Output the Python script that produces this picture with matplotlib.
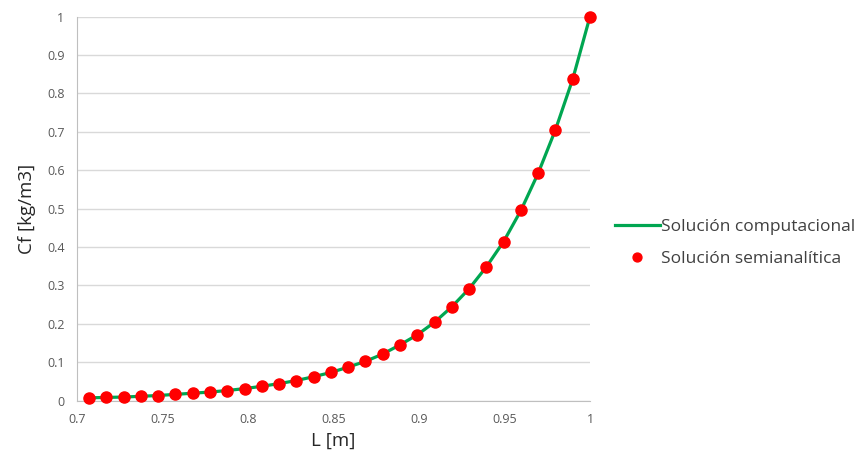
import matplotlib
matplotlib.use("Agg")
import matplotlib.pyplot as plt
import numpy as np

# L [m] positions of the computed / semi-analytic points
l_vals = [0.7071, 0.7172, 0.7273, 0.7374, 0.7475, 0.7576, 0.7677, 0.7778,
          0.7879, 0.7980, 0.8081, 0.8182, 0.8283, 0.8384, 0.8485, 0.8586,
          0.8687, 0.8788, 0.8889, 0.8990, 0.9091, 0.9192, 0.9293, 0.9394,
          0.9495, 0.9596, 0.9697, 0.9798, 0.9899, 1.0]
cf_comp = [0.007, 0.008, 0.009, 0.011, 0.013, 0.016, 0.019, 0.022,
           0.026, 0.031, 0.037, 0.044, 0.052, 0.062, 0.073, 0.087,
           0.102, 0.121, 0.145, 0.171, 0.204, 0.244, 0.291, 0.348,
           0.414, 0.495, 0.592, 0.705, 0.837, 1.0]
cf_semi = [0.007, 0.008, 0.009, 0.011, 0.013, 0.016, 0.019, 0.022,
           0.026, 0.031, 0.037, 0.044, 0.052, 0.062, 0.073, 0.087,
           0.102, 0.121, 0.145, 0.171, 0.204, 0.244, 0.291, 0.348,
           0.414, 0.495, 0.592, 0.705, 0.837, 1.0]

x_ticks = [0.7, 0.75, 0.8, 0.85, 0.9, 0.95, 1.0]
x_ticklabels = ["0.7", "0.75", "0.8", "0.85", "0.9", "0.95", "1"]
y_ticks = [0, 0.1, 0.2, 0.3, 0.4, 0.5, 0.6, 0.7, 0.8, 0.9, 1.0]
y_ticklabels = ["0", "0.1", "0.2", "0.3", "0.4", "0.5", "0.6", "0.7",
                "0.8", "0.9", "1"]

plt.rcParams["font.family"] = ["Open Sans", "DejaVu Sans"]

fig = plt.figure(figsize=(8.58, 4.66), dpi=100)
ax = fig.add_axes([77 / 858, 1 - 400.5 / 466, 513 / 858, 384 / 466])

ax.plot(l_vals, cf_comp, color="#00a651", lw=2.3,
        label="Solución computacional", zorder=2, clip_on=False)
ax.plot(l_vals, cf_semi, ls="none", marker="o", ms=8, color="#ff0000",
        label="Solución semianalítica", zorder=3, clip_on=False)

ax.set_xlim(0.7, 1.0)
ax.set_ylim(0, 1.0)
ax.set_xticks(x_ticks)
ax.set_xticklabels(x_ticklabels)
ax.set_yticks(y_ticks)
ax.set_yticklabels(y_ticklabels)
ax.tick_params(length=0, labelsize=9, labelcolor="#595959", pad=9)
ax.grid(axis="y", color="#d9d9d9", lw=1)
ax.set_axisbelow(True)
for side in ["top", "right"]:
    ax.spines[side].set_visible(False)
for side in ["left", "bottom"]:
    ax.spines[side].set_color("#bfbfbf")

ax.set_xlabel("L [m]", fontsize=13.5, color="#262626", labelpad=4)
ax.set_ylabel("Cf [kg/m3]", fontsize=13.5, color="#262626", labelpad=8)

fig.legend(loc="center left", bbox_to_anchor=(606 / 858, 1 - 243 / 466),
           frameon=False, fontsize=12.5, labelcolor="#404040",
           handlelength=2.6, handletextpad=0.05, labelspacing=0.9,
           markerscale=0.8, borderpad=0)

fig.savefig("out.png", dpi=100)
